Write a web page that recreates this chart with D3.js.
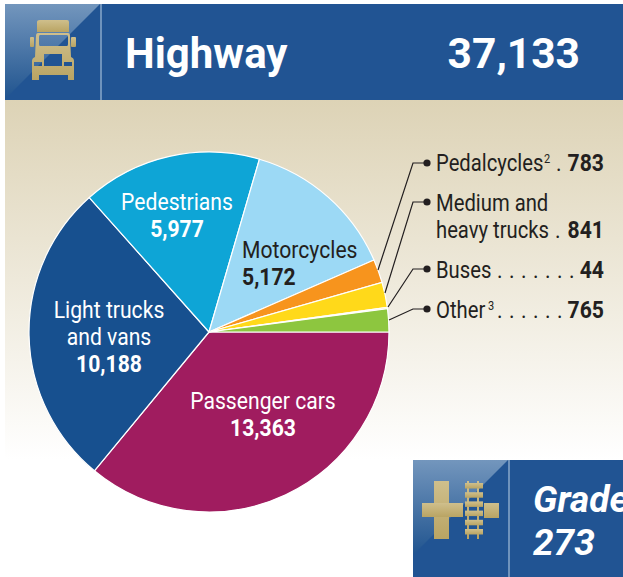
<!DOCTYPE html>
<html>
<head>
<meta charset="utf-8">
<script src="https://cdn.jsdelivr.net/npm/d3@7"></script>
<style>
  html, body { margin: 0; padding: 0; background: #fff; }
  svg { display: block; }
  text { font-family: Roboto, sans-serif; }
</style>
</head>
<body>
<svg id="chart" width="623" height="577"></svg>
<script>
// order is clockwise from 3 o'clock
var categories = ["Passenger cars", "Light trucks and vans", "Pedestrians", "Motorcycles", "Pedalcycles", "Medium and heavy trucks", "Buses", "Other"];
var values = [13363, 10188, 5977, 5172, 783, 841, 44, 765];
var colors = ["#a01c5f", "#17508f", "#0ea5d6", "#9cd9f5", "#f7941d", "#ffd91a", "#ffd91a", "#8dc63f"];
var total = "37,133";

var svg = d3.select("#chart");
var fmt = d3.format(",");
var defs = svg.append("defs");

var bg = defs.append("linearGradient").attr("id", "bg").attr("x1", 0).attr("y1", 0).attr("x2", 0).attr("y2", 1);
bg.append("stop").attr("offset", "0%").attr("stop-color", "#ddd3b6");
bg.append("stop").attr("offset", "100%").attr("stop-color", "#ffffff");

var gloss = defs.append("linearGradient").attr("id", "gloss").attr("x1", 0).attr("y1", 0).attr("x2", 0).attr("y2", 1);
gloss.append("stop").attr("offset", "0%").attr("stop-color", "#7396bd");
gloss.append("stop").attr("offset", "100%").attr("stop-color", "#20548f");

var gold = defs.append("linearGradient").attr("id", "gold").attr("x1", 0).attr("y1", 0).attr("x2", 0).attr("y2", 1);
gold.append("stop").attr("offset", "0%").attr("stop-color", "#cfbf8c");
gold.append("stop").attr("offset", "100%").attr("stop-color", "#b9a463");

svg.append("rect").attr("x", 5).attr("y", 100).attr("width", 618).attr("height", 360).attr("fill", "url(#bg)");

// the source font is condensed, Roboto squeezed sideways gets close
function label(x, y, s, size, fill, anchor, bold, squeeze) {
    return svg.append("text")
        .attr("transform", "translate(" + x + "," + y + ") scale(" + (squeeze || 0.92) + ",1)")
        .attr("text-anchor", anchor || "start")
        .attr("font-size", size)
        .attr("font-weight", bold ? 700 : 400)
        .attr("fill", fill)
        .text(s);
}

// header bars
function banner(x, y, w, h, tri) {
    svg.append("rect").attr("x", x).attr("y", y).attr("width", w).attr("height", h).attr("fill", "#215493");
    svg.append("path").attr("d", "M" + x + "," + y + "H" + (x + tri) + "L" + x + "," + (y + tri) + "Z").attr("fill", "url(#gloss)");
    svg.append("rect").attr("x", x + tri).attr("y", y).attr("width", 2).attr("height", h).attr("fill", "#6f93bc");
}
banner(5, 4, 618, 96, 95);
banner(413, 460, 210, 117, 95);

// truck icon
var truck = svg.append("g").attr("fill", "url(#gold)");
truck.append("path").attr("d", "M37,22 Q37,20 40,20 H67 Q69,20 69,22 V32 H37 Z");
truck.append("rect").attr("x", 30).attr("y", 37).attr("width", 4).attr("height", 10).attr("rx", 1);
truck.append("rect").attr("x", 71).attr("y", 37).attr("width", 5).attr("height", 10).attr("rx", 1);
truck.append("path").attr("fill-rule", "evenodd").attr("d",
    "M38,33 H68 Q70,33 70,36 L71,57 Q74,58 74,61 V80 H68 V75 H39 V80 H32 V61 Q32,58 35,57 L36,36 Q36,33 38,33 Z" +
    "M40,35 Q39,35 39,37 V44 Q39,46 40,46 H67 Q68,46 68,44 V37 Q68,35 67,35 Z" +
    "M44,54 V66 H62 V54 Z M34,62 V66 H42 V62 Z M64,62 V66 H72 V62 Z");

// crossing icon
var cross = svg.append("g").attr("fill", "url(#gold)");
cross.append("rect").attr("x", 434).attr("y", 481).attr("width", 15).attr("height", 58);
cross.append("rect").attr("x", 422).attr("y", 503).attr("width", 41).attr("height", 14);
cross.append("rect").attr("x", 484).attr("y", 503).attr("width", 15).attr("height", 15);
cross.append("rect").attr("x", 467).attr("y", 481).attr("width", 2).attr("height", 58);
cross.append("rect").attr("x", 477).attr("y", 481).attr("width", 2).attr("height", 58);
d3.range(6).forEach(function(i) {
    cross.append("rect").attr("x", 465).attr("y", 483 + i * 9.2).attr("width", 18).attr("height", 5.5);
});

svg.append("text").attr("x", 125).attr("y", 68).attr("font-size", 42).attr("font-weight", 700).attr("fill", "#fff").text("Highway");
svg.append("text").attr("x", 580).attr("y", 68).attr("text-anchor", "end").attr("font-size", 42.5).attr("font-weight", 700).attr("fill", "#fff").text(total);
svg.append("text").attr("x", 533).attr("y", 512).attr("font-size", 37).attr("font-weight", 700).attr("font-style", "italic").attr("fill", "#fff").text("Grade");
svg.append("text").attr("x", 533).attr("y", 555).attr("font-size", 37).attr("font-weight", 700).attr("font-style", "italic").attr("fill", "#fff").text("273");

// pie
var cx = 209, cy = 332, radius = 180;
var pie = d3.pie().sort(null).startAngle(Math.PI / 2).endAngle(Math.PI / 2 + 2 * Math.PI);
var arc = d3.arc().innerRadius(0).outerRadius(radius);
var arcs = pie(values);

var chart = svg.append("g").attr("transform", "translate(" + cx + "," + cy + ")");
chart.selectAll("path").data(arcs).enter().append("path")
    .attr("d", arc)
    .attr("fill", function(d, i) { return colors[i]; })
    .attr("stroke", "#fff")
    .attr("stroke-width", 1.2);

// slice labels, text placed by hand like the original
var sliceLabels = [
    { i: 0, lines: ["Passenger cars"], x: 263, y: 409, fill: "#fff", anchor: "middle" },
    { i: 1, lines: ["Light trucks", "and vans"], x: 109, y: 318, fill: "#fff", anchor: "middle" },
    { i: 2, lines: ["Pedestrians"], x: 177, y: 210, fill: "#fff", anchor: "middle" },
    { i: 3, lines: ["Motorcycles"], x: 242, y: 258, fill: "#231f20", anchor: "start" }
];
sliceLabels.forEach(function(l) {
    l.lines.forEach(function(s, k) {
        label(l.x, l.y + k * 27, s, 23, l.fill, l.anchor);
    });
    label(l.x, l.y + l.lines.length * 27, fmt(values[l.i]), 23, l.fill, l.anchor, true);
});

// callouts on the right
var ink = "#231f20";
var callouts = [
    { i: 4, dotY: 163, lines: ["Pedalcycles"], sup: "2", supX: 544, y: 171, end: [378, 270], leader: 556, count: 1 },
    { i: 5, dotY: 202, lines: ["Medium and", "heavy trucks"], y: 211, end: [385, 293], leader: 555, count: 1 },
    { i: 6, dotY: 269, lines: ["Buses"], y: 278, end: [388, 307], leader: 497, count: 7 },
    { i: 7, dotY: 309, lines: ["Other"], sup: "3", supX: 488, y: 318, end: [389, 320], leader: 497, count: 6 }
];
callouts.forEach(function(c) {
    svg.append("path").attr("fill", "none").attr("stroke", ink).attr("stroke-width", 1.2)
        .attr("d", "M" + c.end[0] + "," + c.end[1] + "L413," + c.dotY + "H427");
    svg.append("circle").attr("cx", 427).attr("cy", c.dotY).attr("r", 3.6).attr("fill", ink);
    c.lines.forEach(function(s, k) {
        label(436, c.y + k * 27, s, 23, ink, "start", false, 0.88);
    });
    var lastY = c.y + (c.lines.length - 1) * 27;
    if (c.sup) label(c.supX, lastY - 8, c.sup, 12, ink);
    d3.range(c.count).forEach(function(k) {
        label(c.leader + k * 12, lastY, ".", 23, ink);
    });
    label(604, lastY, fmt(values[c.i]), 23, ink, "end", true);
});
</script>
</body>
</html>
